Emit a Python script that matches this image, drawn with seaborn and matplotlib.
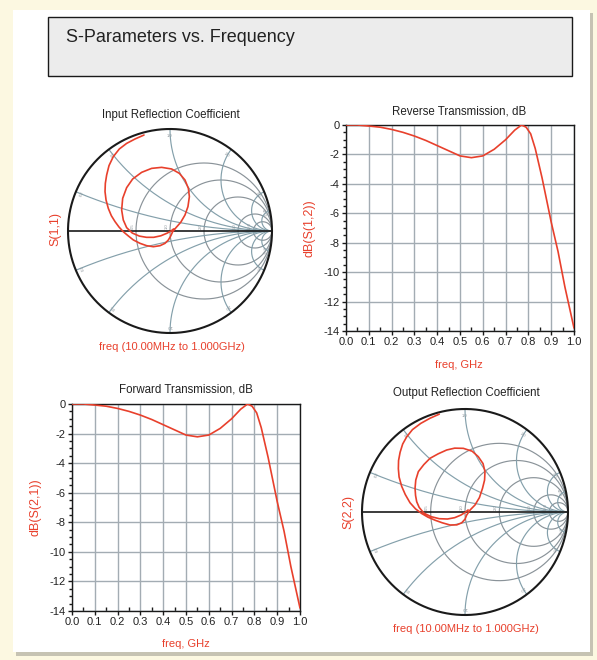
import numpy as np
import pandas as pd
import matplotlib
matplotlib.use("Agg")
import matplotlib.pyplot as plt
from matplotlib.patches import Rectangle
import seaborn as sns

# frequency sweep (GHz)
freq = [0.0, 0.05, 0.1, 0.15, 0.2, 0.25, 0.3, 0.35, 0.4, 0.45, 0.5, 0.55, 0.6,
        0.65, 0.7, 0.74, 0.77, 0.79, 0.81, 0.83, 0.86, 0.88, 0.9, 0.93, 0.96, 1.0]
s12_db = [0.0, 0.0, -0.07, -0.15, -0.3, -0.5, -0.75, -1.05, -1.4, -1.75, -2.1, -2.22, -2.1,
          -1.65, -1.0, -0.35, 0.0, -0.15, -0.6, -1.6, -3.6, -5.1, -6.6, -8.6, -11.0, -13.8]
s21_db = [0.0, 0.0, -0.07, -0.15, -0.3, -0.5, -0.75, -1.05, -1.4, -1.75, -2.1, -2.22, -2.1,
          -1.65, -1.0, -0.35, 0.0, -0.15, -0.6, -1.6, -3.6, -5.1, -6.6, -8.6, -11.0, -13.8]

s11_re = [-0.255, -0.343, -0.425, -0.497, -0.556, -0.598, -0.621, -0.634, -0.637, -0.627,
          -0.605, -0.575, -0.539, -0.500, -0.458, -0.408, -0.359, -0.294, -0.229, -0.163,
          -0.098, -0.049, -0.016, 0.007, 0.026, 0.059, 0.105, 0.147, 0.176, 0.190, 0.180,
          0.147, 0.092, 0.016, -0.082, -0.180, -0.278, -0.366, -0.425, -0.464, -0.474,
          -0.458, -0.425, -0.37, -0.30, -0.23, -0.16, -0.09, -0.03, 0.01, 0.035]
s11_im = [0.941, 0.902, 0.859, 0.804, 0.729, 0.641, 0.549, 0.467, 0.386, 0.304,
          0.222, 0.150, 0.092, 0.039, -0.007, -0.049, -0.088, -0.121, -0.144, -0.154,
          -0.144, -0.121, -0.088, -0.049, -0.007, 0.033, 0.085, 0.157, 0.239, 0.337, 0.418,
          0.500, 0.565, 0.608, 0.624, 0.614, 0.575, 0.510, 0.425, 0.320, 0.206,
          0.108, 0.033, -0.02, -0.05, -0.062, -0.062, -0.047, -0.022, 0.0, 0.02]
s22_re = [-0.25, -0.34, -0.43, -0.51, -0.566, -0.605, -0.63, -0.645, -0.647, -0.64,
          -0.615, -0.58, -0.534, -0.48, -0.42, -0.36, -0.29, -0.22, -0.146, -0.08,
          -0.032, 0.0, 0.016, 0.05, 0.097, 0.14, 0.17, 0.19, 0.194, 0.175, 0.129, 0.07,
          -0.016, -0.10, -0.178, -0.26, -0.34, -0.40, -0.453, -0.478, -0.485, -0.48,
          -0.469, -0.445, -0.40, -0.33, -0.25, -0.17, -0.10, -0.04, 0.0, 0.03]
s22_im = [0.95, 0.91, 0.86, 0.80, 0.73, 0.66, 0.58, 0.50, 0.42, 0.34,
          0.25, 0.17, 0.09, 0.03, -0.015, -0.05, -0.08, -0.105, -0.126, -0.125,
          -0.105, -0.07, -0.03, 0.02, 0.068, 0.14, 0.23, 0.31, 0.392, 0.47, 0.537, 0.59,
          0.618, 0.62, 0.602, 0.565, 0.521, 0.46, 0.392, 0.31, 0.23, 0.16,
          0.1, 0.045, -0.01, -0.045, -0.065, -0.068, -0.055, -0.03, -0.005, 0.02]

x_ticks = [0.0, 0.1, 0.2, 0.3, 0.4, 0.5, 0.6, 0.7, 0.8, 0.9, 1.0]
y_ticks = [0, -2, -4, -6, -8, -10, -12, -14]
r_circles = [0.5, 1.0, 2.0, 5.0, 10.0]
x_arcs = [0.2, 0.5, 1.0, 2.0, 5.0, 10.0]

RED = "#e8402c"
TXT = "#222222"
W, H = 597, 660

sns.set_style("white")
plt.rcParams["font.family"] = ["Liberation Sans", "DejaVu Sans"]
plt.rcParams["axes.unicode_minus"] = False


def box(x0, y0, x1, y1):
    # pixel box (top-left origin) -> figure rect
    return [x0 / W, 1 - y1 / H, (x1 - x0) / W, (y1 - y0) / H]


def ftext(x, y, s, **kw):
    fig.text(x / W, 1 - y / H, s, ha="center", va="center", **kw)


fig = plt.figure(figsize=(W / 100, H / 100), dpi=100, facecolor="#fcf8e1")

# panel with a soft shadow, and the title box (kept under the axes)
fig.patches.append(Rectangle((16 / W, 1 - 656 / H), 577 / W, 643 / H, transform=fig.transFigure,
                             facecolor="#b9b6a8", edgecolor="none", alpha=0.8, zorder=-10))
fig.patches.append(Rectangle((13 / W, 1 - 652 / H), 577 / W, 642 / H, transform=fig.transFigure,
                             facecolor="white", edgecolor="none", zorder=-9))
fig.patches.append(Rectangle((48 / W, 1 - 76 / H), 524 / W, 59 / H, transform=fig.transFigure,
                             facecolor="#ececec", edgecolor="#1a1a1a", linewidth=1.0, zorder=-8))
fig.text(66 / W, 1 - 37 / H, "S-Parameters vs. Frequency", ha="left", va="center",
         fontsize=13, color=TXT)


def smith(ax, re, im):
    ax.set_xlim(-1, 1)
    ax.set_ylim(-1, 1)
    ax.axis("off")
    t = np.linspace(0, 2 * np.pi, 400)
    for r in r_circles:
        c, rad = r / (1 + r), 1 / (1 + r)
        ax.plot(c + rad * np.cos(t), rad * np.sin(t), color="#8a9399", lw=0.85, zorder=1)
        ax.text(c - rad - 0.035, 0.045, f"{r:.1f}", fontsize=3, color="#8a9399",
                rotation=90, ha="center", va="center")
    rr = np.concatenate([np.linspace(0, 5, 300), np.logspace(0.7, 4, 200)])
    for xv in x_arcs:
        for sgn in (1, -1):
            z = rr + 1j * sgn * xv
            g = (z - 1) / (z + 1)
            ax.plot(g.real, g.imag, color="#84a0ab", lw=0.85, zorder=1)
            g0 = (1j * sgn * xv - 1) / (1j * sgn * xv + 1)
            ang = np.degrees(np.angle(g0))
            ax.text(0.93 * g0.real, 0.93 * g0.imag, f"{xv:.1f}", fontsize=3, color="#8a9399",
                    rotation=ang - 90, ha="center", va="center")
    ax.plot(np.cos(t), np.sin(t), color="#1a1a1a", lw=1.5, zorder=3, clip_on=False)
    ax.plot([-1, 1], [0, 0], color="#1a1a1a", lw=1.2, zorder=3, clip_on=False)
    df = pd.DataFrame({"re": re, "im": im})
    sns.lineplot(data=df, x="re", y="im", sort=False, estimator=None, ax=ax,
                 color=RED, lw=1.2, zorder=4)
    ax.set_xlabel("")
    ax.set_ylabel("")


def db_plot(ax, y):
    df = pd.DataFrame({"freq": freq, "db": y})
    sns.lineplot(data=df, x="freq", y="db", ax=ax, color=RED, lw=1.2, zorder=4)
    ax.set_xlim(0, 1)
    ax.set_ylim(-14, 0)
    ax.set_xticks(x_ticks)
    ax.set_xticklabels([f"{v:.1f}" for v in x_ticks])
    ax.set_yticks(y_ticks)
    ax.set_yticklabels([str(v) for v in y_ticks])
    ax.set_xticks(np.arange(0.05, 1.0, 0.1), minor=True)
    ax.set_yticks(np.arange(-13.5, 0, 0.5), minor=True)
    ax.grid(True, which="major", color="#a3acb3", lw=1.0)
    ax.tick_params(which="major", direction="out", length=3, width=1, color="#1a1a1a",
                   labelsize=8, labelcolor=TXT, pad=1.5, left=True, bottom=True)
    ax.tick_params(axis="x", which="minor", direction="in", length=3, width=1,
                   color="#1a1a1a", bottom=True)
    ax.tick_params(axis="y", which="minor", direction="out", length=2.5, width=1,
                   color="#1a1a1a", left=True)
    for sp in ax.spines.values():
        sp.set_color("#1a1a1a")
        sp.set_linewidth(1.0)
    ax.set_xlabel("")
    ax.set_ylabel("")


# Input reflection coefficient
ax1 = fig.add_axes(box(68, 129, 272, 333))
smith(ax1, s11_re, s11_im)
ftext(171, 115, "Input Reflection Coefficient", fontsize=8.3, color=TXT)
ftext(55, 229, "S(1,1)", fontsize=9, color=RED, rotation=90)
ftext(172, 347, "freq (10.00MHz to 1.000GHz)", fontsize=8, color=RED)

# Reverse transmission
ax2 = fig.add_axes(box(346, 125, 574, 331))
db_plot(ax2, s12_db)
ftext(459, 111, "Reverse Transmission, dB", fontsize=8.3, color=TXT)
ftext(310, 228, "dB(S(1,2))", fontsize=9, color=RED, rotation=90)
ftext(459, 365, "freq, GHz", fontsize=8, color=RED)

# Forward transmission
ax3 = fig.add_axes(box(72, 404, 300, 611))
db_plot(ax3, s21_db)
ftext(186, 390, "Forward Transmission, dB", fontsize=8.3, color=TXT)
ftext(35, 507, "dB(S(2,1))", fontsize=9, color=RED, rotation=90)
ftext(186, 644, "freq, GHz", fontsize=8, color=RED)

# Output reflection coefficient
ax4 = fig.add_axes(box(362, 409, 568, 615))
smith(ax4, s22_re, s22_im)
ftext(466, 393, "Output Reflection Coefficient", fontsize=8.3, color=TXT)
ftext(348, 512, "S(2,2)", fontsize=9, color=RED, rotation=90)
ftext(466, 629, "freq (10.00MHz to 1.000GHz)", fontsize=8, color=RED)

fig.savefig("out.png", dpi=100, facecolor=fig.get_facecolor())
